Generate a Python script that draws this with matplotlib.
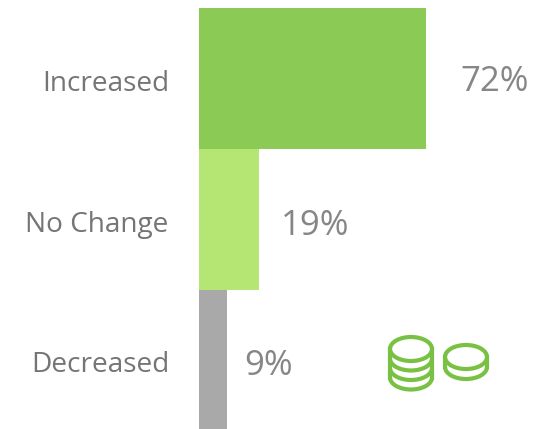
import matplotlib
matplotlib.use("Agg")
import matplotlib.pyplot as plt
from matplotlib.patches import Ellipse, Arc

categories = ["Increased", "No Change", "Decreased"]
values = [72, 19, 9]
labels = ["72%", "19%", "9%"]
colors = ["#8BCB55", "#B5E573", "#A9A9A9"]

W, H = 544, 429
fig = plt.figure(figsize=(W/100, H/100), dpi=100)
ax = fig.add_axes([0, 0, 1, 1])
ax.set_xlim(0, W); ax.set_ylim(H, 0); ax.axis('off')
scale = (426-199)/72
tops = [8, 149, 290]
bots = [149, 290, 429]
centers_y = [84, 225, 365]
label_right = [169, 168, 170]
val_x = [460, 281, 244]
val_y = [82, 226, 366]
for c, v, l, col, t, b, cy, lr, vx, vy in zip(categories, values, labels, colors, tops, bots, centers_y, label_right, val_x, val_y):
    ax.barh((t+b)/2, v*scale, height=b-t, left=199, color=col, lw=0)
    ax.text(lr, cy, c, ha='right', va='center', fontsize=20.2, color='#757575', family='Open Sans')
    ax.text(vx, vy, l, ha='left', va='center', fontsize=25, color='#868686', family='Open Sans')

g = '#79C143'; lw = 3.0
def coin(cx, cy, rx, ry, layers, gap):
    for i in range(layers, 0, -1):
        ax.add_patch(Arc((cx, cy+i*gap), 2*rx, 2*ry, theta1=0, theta2=180, color=g, lw=lw))
    ax.add_patch(Ellipse((cx, cy), 2*rx, 2*ry, fill=False, ec=g, lw=lw))
    ax.plot([cx-rx, cx-rx], [cy, cy+layers*gap], color=g, lw=lw)
    ax.plot([cx+rx, cx+rx], [cy, cy+layers*gap], color=g, lw=lw)
coin(411, 349, 21, 12, 3, 9.5)
coin(466, 357, 21, 12, 1, 10)
fig.savefig("out.png", dpi=100)
